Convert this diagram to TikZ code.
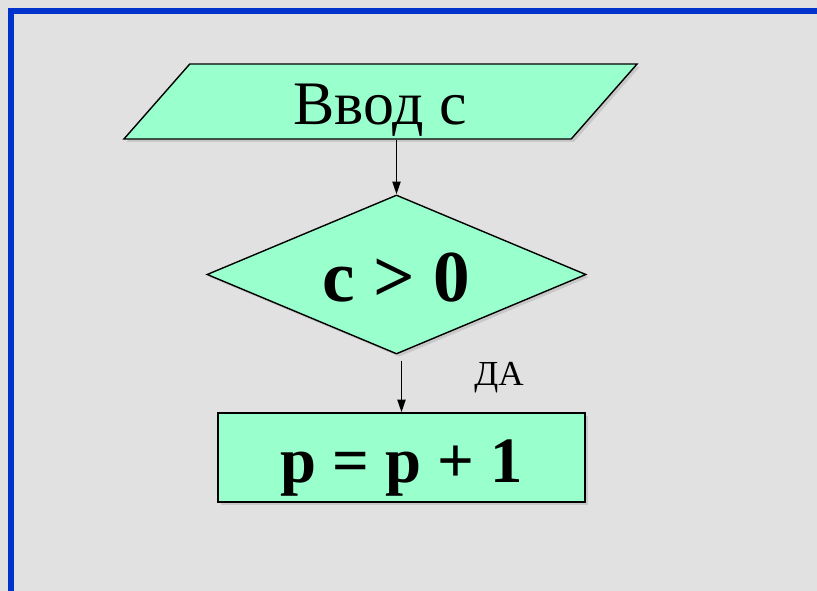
\documentclass[tikz,border=0pt]{standalone}
\usepackage{fontspec}
\setmainfont{Liberation Serif}
\usetikzlibrary{arrows.meta,positioning,shapes.geometric,shadows}
\definecolor{blk}{HTML}{99FFCC}
\definecolor{frame}{HTML}{0033CC}
\definecolor{bg}{HTML}{E1E1E1}

\begin{document}
\begin{tikzpicture}[x=0.025cm, y=-0.025cm,
		shp/.style={draw=black, line width=1pt, fill=blk, inner sep=0pt,
				text depth=0pt,
				drop shadow={shadow xshift=2pt, shadow yshift=-2pt, opacity=0.25}},
		inbox/.style={shp, trapezium, trapezium left angle=35.5,
				trapezium right angle=144.5, trapezium stretches body,
				minimum width=12.825cm, minimum height=1.875cm,
				text height=33.4pt, font=\fontsize{44}{50}\selectfont},
		cond/.style={shp, diamond, shape aspect=2.38,
				minimum width=9.475cm, minimum height=3.975cm,
				text height=39pt, font=\fontsize{52}{58}\selectfont\bfseries},
		act/.style={shp, rectangle, minimum width=9.175cm, minimum height=2.225cm,
				text height=35pt, font=\fontsize{46}{52}\selectfont\bfseries},
		arr/.style={-{Triangle[length=9pt, width=5.8pt]}, line width=1.1pt},
		]

		% ---- Fond et cadre ----
		\clip (0,0) rectangle (817,591);
		\fill[bg] (0,0) rectangle (817,591);
		\draw[frame, line width=6*0.025cm] (11,11) rectangle (840,594);

		% ---- Blocs ----
		\node[inbox] (vvod) at (380.5,101.5) {Ввод с};
		\node[cond] (usl) at (396.5,274.5) {c > 0};
		\coordinate (vvodout) at (usl.north |- vvod.south);
		\node[act] (prisv) at (401.5,457.5) {p = p + 1};
		\node[font=\fontsize{25}{28}\selectfont] (da) at (499,378) {ДА};

		% ---- Flèches ----
		\draw[arr] (vvodout) -- (usl.north);
		\draw[arr, shorten <=6*0.025cm] (prisv.north |- usl.south) -- (prisv.north);

	\end{tikzpicture}
\end{document}
